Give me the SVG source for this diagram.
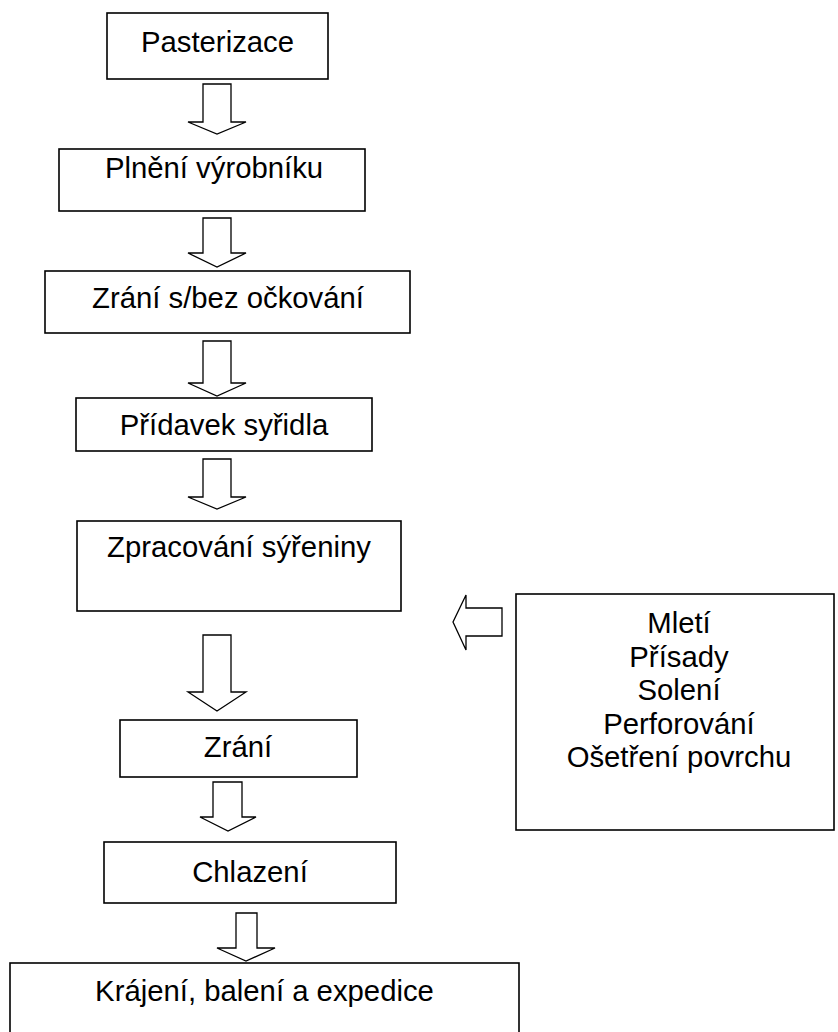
<svg xmlns="http://www.w3.org/2000/svg" width="838" height="1032" viewBox="0 0 838 1032">
<style>
.box{fill:#fff;stroke:#000;stroke-width:1.6}
.arr{fill:#fff;stroke:#000;stroke-width:1.3;stroke-linejoin:miter}
text{font-family:"Liberation Sans",Arial,sans-serif;font-size:29.3px;fill:#000;text-anchor:middle}
</style>
<rect width="838" height="1032" fill="#fff"/>
<g id="connectors">
<polygon class="arr" points="203,84 231,84 231,122 246,122 217,134 188,122 203,122"/>
<polygon class="arr" points="203,218 231,218 231,253 246,253 217,267 188,253 203,253"/>
<polygon class="arr" points="203,341 231,341 231,383 246,383 217,396 188,383 203,383"/>
<polygon class="arr" points="203,459 231,459 231,497 246,497 217,509 188,497 203,497"/>
<polygon class="arr" points="203,635 231,635 231,692 246,692 217,711 188,692 203,692"/>
<polygon class="arr" points="213,782 242,782 242,817 256,817 228,831 200,817 213,817"/>
<polygon class="arr" points="236,913 257,913 257,948 275,948 246,961 217,948 236,948"/>
<polygon class="arr" points="502,608 466,608 466,595 453,622 466,650 466,636 502,636"/>
</g>
<g id="n1"><rect class="box" x="107" y="13" width="221" height="66"/><text x="217.5" y="52">Pasterizace</text></g>
<g id="n2"><rect class="box" x="59" y="149" width="306" height="62"/><text x="214" y="178">Plnění výrobníku</text></g>
<g id="n3"><rect class="box" x="45" y="271" width="365" height="62"/><text x="228" y="308">Zrání s/bez očkování</text></g>
<g id="n4"><rect class="box" x="76" y="398" width="296" height="53"/><text x="224" y="435">Přídavek syřidla</text></g>
<g id="n5"><rect class="box" x="77" y="521" width="324" height="90"/><text x="239" y="557">Zpracování sýřeniny</text></g>
<g id="n6"><rect class="box" x="120" y="720" width="237" height="57"/><text x="238" y="757">Zrání</text></g>
<g id="n7"><rect class="box" x="104" y="842" width="292" height="61"/><text x="250" y="882">Chlazení</text></g>
<g id="n8"><rect class="box" x="10" y="963" width="509" height="80"/><text x="264.5" y="1001">Krájení, balení a expedice</text></g>
<g id="n9"><rect class="box" x="516" y="594" width="318" height="236"/>
<text x="679" y="633">Mletí</text>
<text x="679" y="666.5">Přísady</text>
<text x="679" y="700">Solení</text>
<text x="679" y="733.5">Perforování</text>
<text x="679" y="767">Ošetření povrchu</text></g>
</svg>
